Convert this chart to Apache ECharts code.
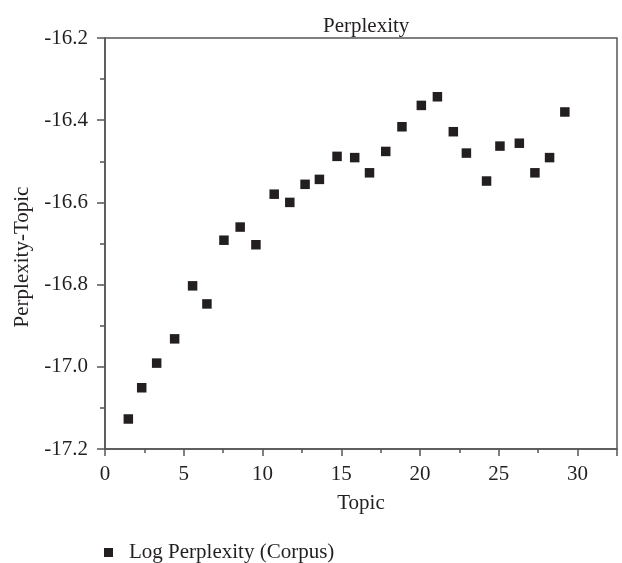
<!DOCTYPE html>
<html>
<head>
<meta charset="utf-8">
<script src="https://cdn.jsdelivr.net/npm/echarts@6/dist/echarts.min.js"></script>
<style>html,body{margin:0;padding:0;background:#fff}#c{width:622px;height:563px}</style>
</head>
<body>
<div id="c"></div>
<script>
var topics = [1.48, 2.33, 3.28, 4.42, 5.56, 6.47, 7.55, 8.58, 9.58, 10.74, 11.73, 12.70, 13.61, 14.73, 15.85, 16.79, 17.82, 18.85, 20.08, 21.10, 22.11, 22.94, 24.22, 25.07, 26.30, 27.29, 28.22, 29.19];
var logPerplexity = [-17.127, -17.051, -16.991, -16.932, -16.803, -16.847, -16.692, -16.660, -16.703, -16.580, -16.600, -16.556, -16.544, -16.488, -16.491, -16.528, -16.476, -16.416, -16.364, -16.343, -16.428, -16.480, -16.548, -16.463, -16.456, -16.528, -16.491, -16.380];
var seriesName = 'Log Perplexity (Corpus)';
var titleText = 'Perplexity';
var xName = 'Topic';
var yName = 'Perplexity-Topic';

var FONT = '"Liberation Serif", "DejaVu Serif", serif';
var FS = 21;
var TXT = '#231f20';
var AX = '#555555';
var data = topics.map(function (t, i) { return [t, logPerplexity[i]]; });

var chart = echarts.init(document.getElementById('c'), null, {renderer: 'canvas'});
chart.setOption({
  animation: false,
  backgroundColor: '#ffffff',
  title: {
    text: titleText, left: 318, top: 11,
    textStyle: {fontFamily: FONT, fontSize: FS, fontWeight: 'normal', color: TXT}
  },
  grid: {left: 105, right: 5, top: 38, bottom: 114, show: true, borderColor: AX, borderWidth: 1.5, containLabel: false},
  legend: {
    left: 99, top: 537, icon: 'rect', itemWidth: 9, itemHeight: 9,
    textStyle: {fontFamily: FONT, fontSize: FS, color: TXT, padding: [0, 0, 0, 11]},
    data: [seriesName]
  },
  xAxis: {
    type: 'value', min: 0, max: 32.5, interval: 5,
    name: xName, nameLocation: 'middle', nameGap: 44,
    nameTextStyle: {fontFamily: FONT, fontSize: FS, color: TXT},
    axisLine: {show: true, lineStyle: {color: AX, width: 1.5}},
    axisTick: {show: true, inside: false, length: 7, lineStyle: {color: AX, width: 1.5}},
    minorTick: {show: true, splitNumber: 2, length: 4, lineStyle: {color: AX, width: 1.5}},
    axisLabel: {fontFamily: FONT, fontSize: FS, color: TXT, margin: 15, showMaxLabel: false},
    splitLine: {show: false}
  },
  yAxis: {
    type: 'value', min: -17.2, max: -16.2, interval: 0.2,
    name: yName, nameLocation: 'middle', nameGap: 72,
    nameTextStyle: {fontFamily: FONT, fontSize: FS, color: TXT, padding: [0, 27, 0, 0]},
    axisLine: {show: true, lineStyle: {color: AX, width: 1.5}},
    axisTick: {show: true, inside: false, length: 8, lineStyle: {color: AX, width: 1.5}},
    minorTick: {show: true, splitNumber: 2, length: 5, lineStyle: {color: AX, width: 1.5}},
    axisLabel: {fontFamily: FONT, fontSize: FS, color: TXT, margin: 17,
      formatter: function (v) { return v.toFixed(1); }},
    splitLine: {show: false}
  },
  series: [{
    name: seriesName, type: 'scatter', symbol: 'rect', symbolSize: 9.5,
    itemStyle: {color: '#231f20', borderWidth: 0, opacity: 1},
    data: data
  }]
});
</script>
</body>
</html>
